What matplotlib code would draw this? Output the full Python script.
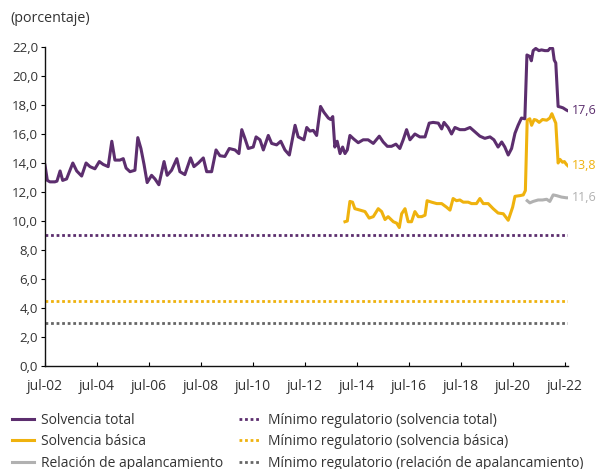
import matplotlib
matplotlib.use("Agg")
import matplotlib.pyplot as plt
from matplotlib.lines import Line2D

plt.rcParams['font.family'] = ['Open Sans', 'DejaVu Sans']

# ---- data (decimal years, percentages) ----
total_t = [2002.50, 2002.59, 2002.69, 2002.88, 2002.96, 2003.08, 2003.18, 2003.33, 2003.57, 2003.72,
           2003.91, 2004.08, 2004.23, 2004.42, 2004.59, 2004.74, 2004.93, 2005.07, 2005.19, 2005.38,
           2005.51, 2005.62, 2005.77, 2005.96, 2006.07, 2006.19, 2006.31, 2006.43, 2006.60, 2006.73,
           2006.88, 2007.08, 2007.20, 2007.37, 2007.57, 2007.69, 2007.88, 2008.10, 2008.23, 2008.40,
           2008.59, 2008.72, 2008.91, 2009.08, 2009.23, 2009.42, 2009.59, 2009.81, 2009.96, 2010.07,
           2010.19, 2010.32, 2010.51, 2010.62, 2010.77, 2010.90, 2011.09, 2011.22, 2011.41, 2011.57,
           2011.73, 2011.90, 2012.12, 2012.24, 2012.46, 2012.57, 2012.69, 2012.82, 2012.95, 2013.10,
           2013.23, 2013.40, 2013.49, 2013.57, 2013.65, 2013.74, 2013.85, 2013.95, 2014.04, 2014.13,
           2014.23, 2014.38, 2014.55, 2014.74, 2014.93, 2015.13, 2015.36, 2015.51, 2015.67, 2015.83,
           2016.00, 2016.15, 2016.28, 2016.41, 2016.54, 2016.73, 2016.92, 2017.12, 2017.28, 2017.43,
           2017.63, 2017.76, 2017.85, 2018.01, 2018.14, 2018.27, 2018.46, 2018.65, 2018.85, 2019.04,
           2019.23, 2019.42, 2019.62, 2019.77, 2019.93, 2020.07, 2020.19, 2020.32, 2020.45, 2020.58,
           2020.70, 2020.83, 2020.96, 2021.04, 2021.15, 2021.21, 2021.28, 2021.38, 2021.50, 2021.60,
           2021.73, 2021.85, 2021.95, 2022.03, 2022.09, 2022.15, 2022.24, 2022.35, 2022.43, 2022.56,
           2022.62]
total_v = [13.85, 12.8, 12.7, 12.7, 12.75, 13.45, 12.8, 12.9, 14.0, 13.45,
           13.1, 14.0, 13.75, 13.6, 14.1, 13.9, 13.75, 15.5, 14.2, 14.2,
           14.3, 13.65, 13.4, 13.5, 15.75, 15.0, 13.9, 12.65, 13.15, 12.9,
           12.5, 14.1, 13.15, 13.5, 14.3, 13.4, 13.2, 14.35, 13.75, 14.0,
           14.35, 13.4, 13.4, 14.9, 14.5, 14.45, 15.0, 14.9, 14.65, 16.3,
           15.7, 15.0, 15.1, 15.8, 15.6, 14.9, 15.9, 15.35, 15.25, 15.5,
           14.9, 14.55, 16.6, 15.8, 15.6, 16.45, 16.2, 16.25, 15.9, 17.9,
           17.5, 17.1, 17.0, 17.2, 15.1, 15.5, 14.65, 15.1, 14.65, 14.9,
           15.9, 15.65, 15.4, 15.6, 15.6, 15.35, 15.85, 15.45, 15.15, 15.15,
           15.3, 15.0, 15.6, 16.3, 15.6, 16.0, 15.8, 15.8, 16.75, 16.8,
           16.75, 16.35, 16.8, 16.45, 16.0, 16.45, 16.3, 16.3, 16.45, 16.15,
           15.85, 15.7, 15.8, 15.6, 15.1, 15.45, 15.1, 14.55, 15.0, 16.05,
           16.6, 17.1, 17.05, 21.45, 21.35, 21.05, 21.75, 21.9, 21.75, 21.8,
           21.75, 21.75, 21.95, 21.9, 21.1, 20.9, 17.9, 17.85, 17.8, 17.65,
           17.6]

basica_t = [2014.04, 2014.13, 2014.23, 2014.33, 2014.42, 2014.62, 2014.81, 2014.97, 2015.13, 2015.32,
            2015.45, 2015.58, 2015.70, 2015.90, 2016.03, 2016.13, 2016.22, 2016.35, 2016.47, 2016.60,
            2016.73, 2016.86, 2016.99, 2017.12, 2017.20, 2017.37, 2017.57, 2017.76, 2017.95, 2018.08,
            2018.20, 2018.33, 2018.46, 2018.59, 2018.78, 2018.91, 2019.10, 2019.23, 2019.36, 2019.55,
            2019.74, 2019.93, 2020.13, 2020.32, 2020.49, 2020.58, 2020.77, 2020.90, 2020.98, 2021.05,
            2021.15, 2021.22, 2021.32, 2021.41, 2021.51, 2021.64, 2021.80, 2021.92, 2022.00, 2022.09,
            2022.15, 2022.24, 2022.31, 2022.41, 2022.48, 2022.56, 2022.62]
basica_v = [9.95, 10.0, 11.35, 11.3, 10.85, 10.75, 10.65, 10.2, 10.3, 10.85,
            10.65, 10.1, 10.3, 9.95, 9.85, 9.55, 10.5, 10.85, 9.95, 9.95,
            10.65, 10.3, 10.3, 10.4, 11.4, 11.3, 11.2, 11.2, 10.95, 10.75,
            11.55, 11.4, 11.45, 11.3, 11.3, 11.2, 11.2, 11.55, 11.2, 11.2,
            10.85, 10.55, 10.5, 10.05, 10.95, 11.7, 11.75, 11.8, 12.1, 16.95,
            17.05, 16.6, 17.0, 16.95, 16.8, 17.0, 16.95, 17.1, 17.4, 17.0,
            16.75, 14.0, 14.25, 14.05, 14.1, 13.9, 13.8]

apal_t = [2021.05, 2021.15, 2021.28, 2021.47, 2021.64, 2021.80, 2021.92, 2022.05, 2022.18, 2022.37,
          2022.56, 2022.62]
apal_v = [11.4, 11.25, 11.35, 11.45, 11.45, 11.5, 11.35, 11.8, 11.75, 11.65,
          11.6, 11.6]

min_total = 9.0
min_basica = 4.5
min_apal = 3.0
x_start, x_end = 2002.5, 2022.62

tick_pos = [2002.5 + 2 * i for i in range(11)]
tick_labels = ['jul-02', 'jul-04', 'jul-06', 'jul-08', 'jul-10', 'jul-12',
               'jul-14', 'jul-16', 'jul-18', 'jul-20', 'jul-22']
y_ticks = [0, 2, 4, 6, 8, 10, 12, 14, 16, 18, 20, 22]

# ---- style ----
C_TOTAL = '#5C2E6E'
C_BAS = '#EFB20E'
C_APAL = '#B1B1B1'
C_MIN_APAL = '#666666'
TXT = '#333333'

W, H = 597, 469
fig = plt.figure(figsize=(W / 100, H / 100), dpi=100)
ax = fig.add_axes([45 / W, 1 - 366 / H, (568 - 45) / W, (366 - 47) / H])

lw = 2.2
dot = dict(linestyle=(0, (1, 1)), linewidth=2.0, dash_capstyle='butt')
ax.plot([x_start, x_end], [min_total] * 2, color=C_TOTAL, **dot)
ax.plot([x_start, x_end], [min_basica] * 2, color=C_BAS, **dot)
ax.plot([x_start, x_end], [min_apal] * 2, color=C_MIN_APAL, **dot)
ax.plot(total_t, total_v, color=C_TOTAL, lw=lw, solid_joinstyle='round')
ax.plot(basica_t, basica_v, color=C_BAS, lw=lw, solid_joinstyle='round')
ax.plot(apal_t, apal_v, color=C_APAL, lw=lw, solid_joinstyle='round')

for t, v, c in [(total_t, total_v, C_TOTAL), (basica_t, basica_v, C_BAS), (apal_t, apal_v, C_APAL)]:
    ax.annotate(f"{v[-1]:.1f}".replace('.', ','), xy=(t[-1], v[-1]), xytext=(2.5, 0),
                textcoords='offset points', va='center', ha='left', color=c, fontsize=9,
                annotation_clip=False)

ax.set_xlim(x_start, x_end)
ax.set_ylim(0, 22)
ax.set_xticks(tick_pos)
ax.set_xticklabels(tick_labels)
ax.set_yticks(y_ticks)
ax.set_yticklabels([f"{v:.1f}".replace('.', ',') for v in y_ticks])
for s in ['top', 'right']:
    ax.spines[s].set_visible(False)
for s in ['left', 'bottom']:
    ax.spines[s].set_color('#111111')
    ax.spines[s].set_linewidth(1.0)
ax.tick_params(axis='x', direction='in', length=3, width=0.8, pad=9, labelsize=10, labelcolor=TXT)
ax.tick_params(axis='y', direction='out', length=3, width=0.8, pad=2, labelsize=9.5, labelcolor=TXT)

fig.text(10 / W, 1 - 18 / H, '(porcentaje)', ha='left', va='center', fontsize=10.3, color=TXT)

handles = [
    Line2D([], [], color=C_TOTAL, lw=lw),
    Line2D([], [], color=C_BAS, lw=lw),
    Line2D([], [], color=C_APAL, lw=lw),
    Line2D([], [], color=C_TOTAL, **dot),
    Line2D([], [], color=C_BAS, **dot),
    Line2D([], [], color=C_MIN_APAL, **dot),
]
labels = ['Solvencia total', 'Solvencia básica', 'Relación de apalancamiento',
          'Mínimo regulatorio (solvencia total)', 'Mínimo regulatorio (solvencia básica)',
          'Mínimo regulatorio (relación de apalancamiento)']
leg = fig.legend(handles, labels, ncol=2, loc='upper left', bbox_to_anchor=(12 / W, 1 - 413 / H),
                 frameon=False, fontsize=10, handlelength=1.6, handletextpad=0.5,
                 columnspacing=1.1, labelspacing=0.45, borderaxespad=0, borderpad=0)
for t in leg.get_texts():
    t.set_color(TXT)

fig.savefig('out.png', dpi=100)
